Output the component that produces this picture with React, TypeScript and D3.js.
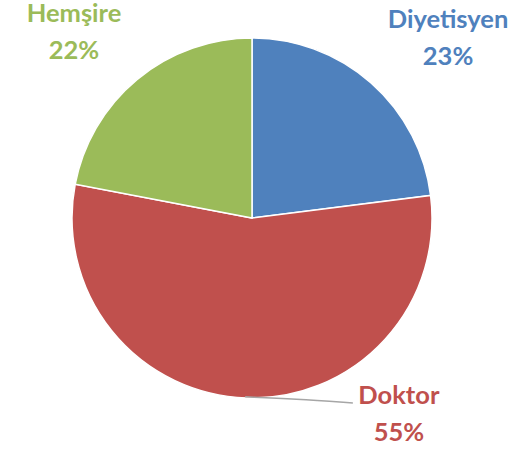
import * as d3 from "d3";
import React from "react";

const categories = ["Diyetisyen", "Doktor", "Hemşire"];
const shares = [23, 55, 22];
const colors = ["#4F81BD", "#C0504D", "#9BBB59"];

// hand-placed label spots (angle in degrees from top, distance from centre),
// pointing at the first text baseline
const labelLayout = [
  { angle: 45.9, dist: 273 },
  { angle: 141.7, dist: 237 },
  { angle: 317.8, dist: 265 },
];

export default function App() {
  const width = 522;
  const height = 449;
  const cx = 252;
  const cy = 218;
  const radius = 180;

  const pie = d3
    .pie<number>()
    .sort(null)
    .value((d) => d);
  const arcs = pie(shares);
  const arc = d3.arc<d3.PieArcDatum<number>>().innerRadius(0).outerRadius(radius);

  const total = d3.sum(shares);

  const place = (i: number) => {
    const a = (labelLayout[i].angle * Math.PI) / 180;
    return [Math.sin(a) * labelLayout[i].dist, -Math.cos(a) * labelLayout[i].dist];
  };

  // leader line for Doktor: from slice edge to label
  const doktor = arcs[1];
  const edgeAngle = doktor.startAngle + (doktor.endAngle - doktor.startAngle) * 0.502;
  const p0: [number, number] = [Math.sin(edgeAngle) * (radius - 1), -Math.cos(edgeAngle) * (radius - 1)];
  const [lx, ly] = place(1);
  const leader = d3.line().curve(d3.curveBasis)([
    p0,
    [p0[0] + 50, p0[1] + 2],
    [lx - 46, ly - 1],
  ]);

  return (
    <svg
      width={width}
      height={height}
      style={{ position: "absolute", left: 0, top: 0 }}
      fontFamily="Lato, 'Open Sans', sans-serif"
    >
      <rect width={width} height={height} fill="#fff" />
      <g transform={`translate(${cx},${cy})`}>
        {arcs.map((d, i) => (
          <path key={categories[i]} d={arc(d) ?? ""} fill={colors[i]} stroke="#fff" strokeWidth={1.5} />
        ))}
        <path d={leader ?? ""} fill="none" stroke="#A6A6A6" strokeWidth={1.5} />
        {arcs.map((d, i) => {
          const [x, y] = place(i);
          const pct = Math.round((shares[i] / total) * 100);
          return (
            <text
              key={categories[i]}
              x={x}
              y={y}
              textAnchor="middle"
              fill={colors[i]}
              fontWeight="bold"
              fontSize={25.5}
            >
              <tspan x={x} dy={0}>{categories[i]}</tspan>
              <tspan x={x} dy={37}>{pct}%</tspan>
            </text>
          );
        })}
      </g>
    </svg>
  );
}
